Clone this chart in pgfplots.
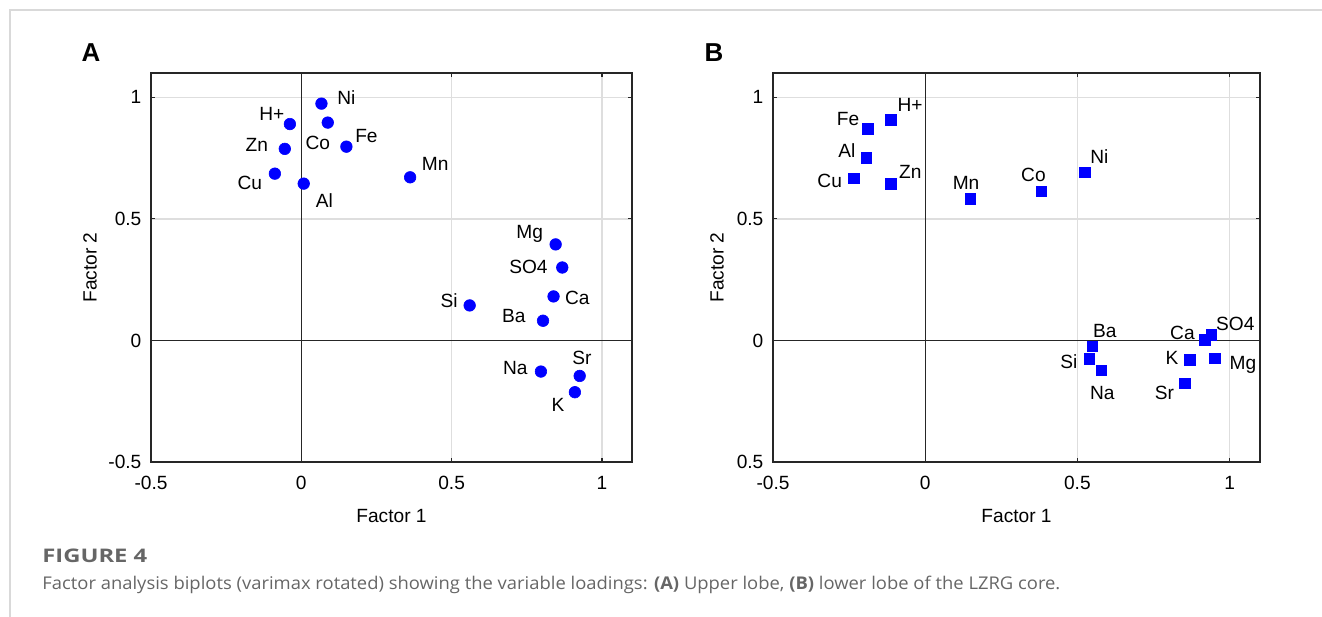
\documentclass[border=0pt]{standalone}
\usepackage{pgfplots}
\pgfplotsset{compat=1.18}
\usepackage{pgfplotstable}
\usepackage{fontspec}
\setmainfont{Liberation Sans}
\newfontfamily\capfont[FakeStretch=1.05]{Open Sans}
\newfontfamily\figfont[FakeStretch=1.27]{Open Sans}
\definecolor{ptblue}{RGB}{0,0,255}
\definecolor{capgray}{RGB}{102,102,102}

% x, y: loadings; dx, dy: label offset from the point (bp)
\pgfplotstableread{
x y label dx dy
0.067 0.974 Ni 12.5 3
-0.038 0.890 H+ -9 5
0.088 0.896 Co -5 -10
-0.055 0.788 Zn -14 2
0.150 0.797 Fe 10 5.5
-0.088 0.686 Cu -12.5 -4.7
0.008 0.645 Al 10.3 -8.3
0.362 0.671 Mn 12.5 6.7
0.846 0.395 Mg -13 5.3
0.868 0.300 SO4 -16.9 0.5
0.839 0.181 Ca 11.9 -0.5
0.560 0.144 Si -10.3 2.2
0.804 0.081 Ba -14.6 2.3
0.797 -0.128 Na -12.8 1.8
0.926 -0.146 Sr 1.1 9.2
0.910 -0.213 K -8.4 -6.2
}\tableA

\pgfplotstableread{
x y label dx dy
-0.113 0.907 H+ 9.6 7.5
-0.188 0.870 Fe -10 5
-0.193 0.751 Al -9.8 3.7
-0.235 0.667 Cu -12 -1.5
-0.113 0.645 Zn 9.8 5.8
0.148 0.582 Mn -2.1 7.8
0.382 0.614 Co -4 8
0.524 0.692 Ni 7.3 7.7
0.549 -0.023 Ba 6.3 7.5
0.540 -0.076 Si -10.3 -1.2
0.578 -0.122 Na 0.6 -11.5
0.918 0.003 Ca -11.1 3.5
0.940 0.023 SO4 12 5.7
0.869 -0.080 K -8.8 1
0.952 -0.074 Mg 14 -3.2
0.853 -0.177 Sr -10.2 -4.8
}\tableB

\pgfplotsset{
  biplot/.style={
    scale only axis,
    height=194.5bp,
    xmin=-0.5, xmax=1.1, ymin=-0.5, ymax=1.1,
    xtick={-0.5,0.5,1}, xticklabels={-0.5,0.5,1},
    ytick={-0.5,0.5,1},
    extra x ticks={0}, extra x tick labels={0},
    extra y ticks={0}, extra y tick labels={0},
    grid=major,
    major grid style={black!13, line width=0.8bp},
    extra tick style={major grid style={black!85, line width=0.6bp}},
    axis line style={black!85, line width=0.7bp},
    tick align=inside, major tick length=2bp,
    tick style={black!85, line width=0.6bp},
    ticklabel style={font=\fontsize{9.6}{11}\selectfont},
    yticklabel style={xshift=-1.3bp},
    xticklabel style={yshift=-3.5bp},
    label style={font=\fontsize{9.6}{11}\selectfont},
    xlabel={Factor 1}, ylabel={Factor 2},
    xlabel style={at={(axis description cs:0.5,-0.1388)}, anchor=center},
  },
  ptlabels/.style={
    draw=none, mark=none,
    point meta=explicit symbolic,
    nodes near coords,
    every node near coord/.append style={anchor=center, text=black, inner sep=0pt,
      font=\fontsize{9.6}{11}\selectfont},
  },
}

\begin{document}
\begin{tikzpicture}
\path[use as bounding box] (0,0) rectangle (661bp,308.5bp);
\draw[black!15, line width=0.8bp] (5bp,0) -- (5bp,303.5bp) -- (661bp,303.5bp);

\node[font=\bfseries\fontsize{13}{15}\selectfont] at (45.5bp,282bp) {A};
\node[font=\bfseries\fontsize{13}{15}\selectfont] at (357bp,282bp) {B};

\begin{axis}[biplot, width=240.5bp, at={(75.5bp,77.5bp)}, anchor=south west,
  yticklabels={-0.5,0.5,1},
  ylabel style={at={(axis description cs:-0.1268,0.5)}, anchor=center}]
\addplot[only marks, mark=*, mark size=2.9bp, mark options={fill=ptblue, draw=ptblue, line width=0.3bp}]
  table[x=x, y=y] {\tableA};
\addplot[ptlabels] table[x expr=\thisrow{x}+\thisrow{dx}/150.31,
  y expr=\thisrow{y}+\thisrow{dy}/121.56, meta=label] {\tableA};
\end{axis}

\begin{axis}[biplot, width=243.5bp, at={(386.5bp,77.5bp)}, anchor=south west,
  yticklabels={0.5,0.5,1},
  ylabel style={at={(axis description cs:-0.115,0.5)}, anchor=center}]
\addplot[only marks, mark=square*, mark size=2.6bp, mark options={fill=ptblue, draw=ptblue, line width=0.3bp}]
  table[x=x, y=y] {\tableB};
\addplot[ptlabels] table[x expr=\thisrow{x}+\thisrow{dx}/152.19,
  y expr=\thisrow{y}+\thisrow{dy}/121.56, meta=label] {\tableB};
\end{axis}

\node[anchor=base west, text=capgray, inner sep=0pt, font={\fontsize{9.4}{11}\figfont\bfseries}] at (21bp,27.5bp) {FIGURE 4};
\node[anchor=base west, text=capgray, inner sep=0pt, font={\fontsize{8.8}{10}\capfont}] at (21bp,14bp)
  {Factor analysis biplots (varimax rotated) showing the variable loadings: \textbf{(A)} Upper lobe, \textbf{(B)} lower lobe of the LZRG core.};
\end{tikzpicture}
\end{document}
